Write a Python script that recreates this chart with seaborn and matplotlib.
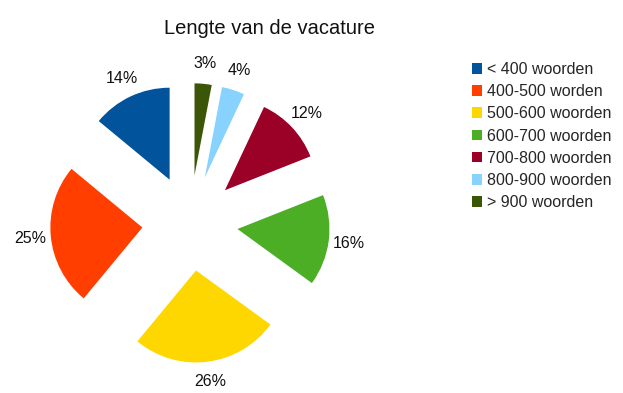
import matplotlib
matplotlib.use("Agg")
import matplotlib.pyplot as plt
import seaborn as sns
from matplotlib.patches import Patch

# data
categories = ['< 400 woorden', '400-500 worden', '500-600 woorden', '600-700 woorden',
              '700-800 woorden', '800-900 woorden', '> 900 woorden']
shares = [14, 25, 26, 16, 12, 4, 3]
colors = ['#01539B', '#FF3E00', '#FFD700', '#4CAE25', '#9B0027', '#87D2FF', '#3B5607']

sns.set_theme(style="white")
plt.rcParams['font.family'] = ['Liberation Sans', 'DejaVu Sans']

palette = sns.color_palette(colors)

W, H = 623, 393
fig = plt.figure(figsize=(W / 100, H / 100), dpi=100)

# pie centre and radius in pixels
cx, cy, r, half = 190, 223, 92, 165
ax = fig.add_axes([(cx - half) / W, (H - cy - half) / H, 2 * half / W, 2 * half / H])

ax.pie(shares, colors=palette, startangle=90, counterclock=True,
       explode=[0.52] * len(shares), autopct='%d%%', pctdistance=1.22,
       wedgeprops=dict(linewidth=0), textprops=dict(fontsize=11.5, color='#111111'))
lim = half / r
ax.set_xlim(-lim, lim)
ax.set_ylim(-lim, lim)
ax.set_aspect('equal')
ax.axis('off')

fig.text(270 / W, 1 - 28 / H, 'Lengte van de vacature', ha='center', va='center',
         fontsize=14.5, color='#111111')

handles = [Patch(facecolor=c, edgecolor='none') for c in palette]
fig.legend(handles, categories, loc='upper left', bbox_to_anchor=(472 / W, 1 - 62 / H),
           frameon=False, fontsize=11.5, handlelength=0.65, handleheight=0.65,
           handletextpad=0.3, labelspacing=0.45, borderaxespad=0, borderpad=0)

fig.savefig('out.png', dpi=100, facecolor='white')
